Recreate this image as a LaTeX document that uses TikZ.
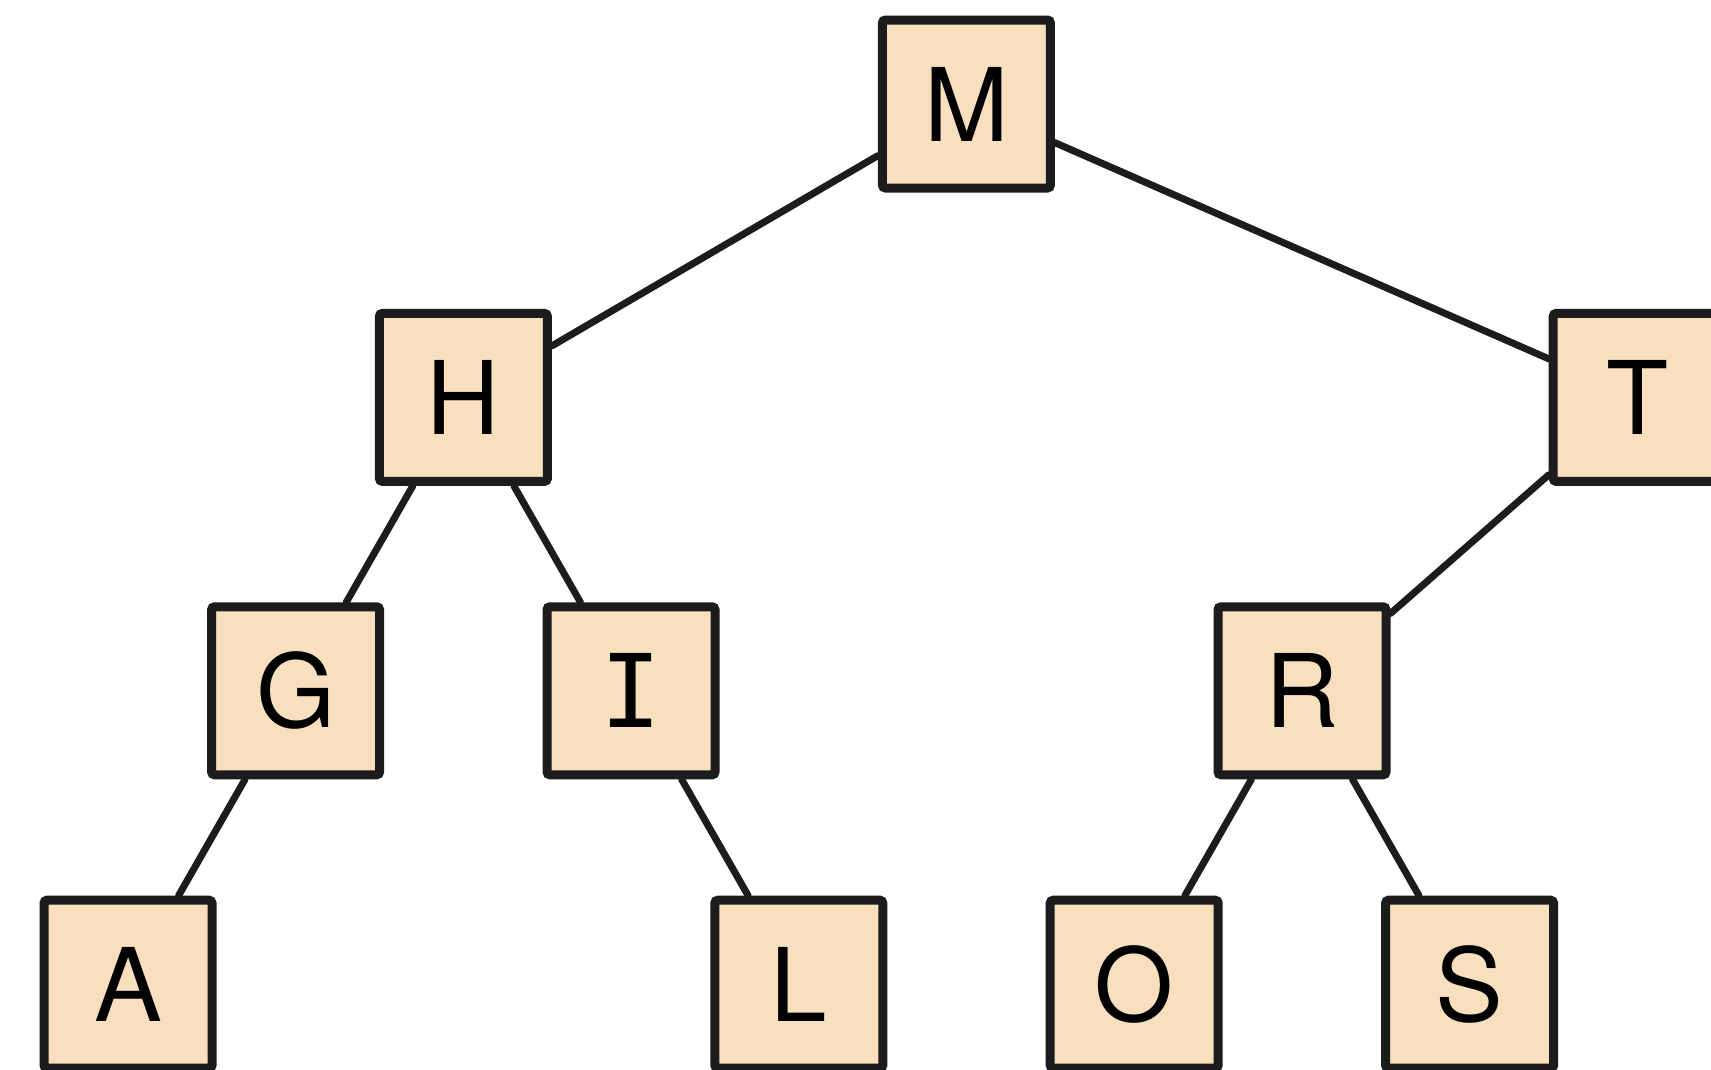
\documentclass[tikz,border=0pt]{standalone}
\usepackage{fontspec}
\setmainfont{TeX Gyre Heros}
\newfontfamily\slabfont{DejaVu Sans Mono}
\usepackage{tikz}
\usetikzlibrary{shapes}

\definecolor{boxfill}{HTML}{F8DFBD}
\definecolor{boxline}{HTML}{1C1C1C}

\tikzset{
  keybox/.style={draw=boxline,fill=boxfill,rectangle,rounded corners=1.5bp,
    line width=4.5bp,minimum size=84bp,inner sep=0pt,
    font=\fontsize{51}{60}\selectfont},
  link/.style={draw=boxline,line width=3.5bp,line cap=round}
}

\begin{document}
\begin{tikzpicture}

\useasboundingbox (0bp,0bp) rectangle (855.5bp,-535bp);

\node (M) at (483.2bp,-52bp)[keybox] {M};
\node (H) at (231.7bp,-198.7bp)[keybox] {H};
\node (T) at (818.6bp,-198.7bp)[keybox] {T};
\node (G) at (147.8bp,-345.4bp)[keybox] {G};
\node (I) at (315.5bp,-345.4bp)[keybox] {\slabfont I};
\node (R) at (651bp,-345.4bp)[keybox] {R};
\node (A) at (64bp,-492.1bp)[keybox] {A};
\node (L) at (399.4bp,-492.1bp)[keybox] {L};
\node (O) at (567.1bp,-492.1bp)[keybox] {O};
\node (S) at (734.8bp,-492.1bp)[keybox] {S};

\draw [link] (M) -- (H);
\draw [link] (M) -- (T);
\draw [link] (H) -- (G);
\draw [link] (H) -- (I);
\draw [link] (T) -- (R);
\draw [link] (G) -- (A);
\draw [link] (I) -- (L);
\draw [link] (R) -- (O);
\draw [link] (R) -- (S);
\end{tikzpicture}
\end{document}
